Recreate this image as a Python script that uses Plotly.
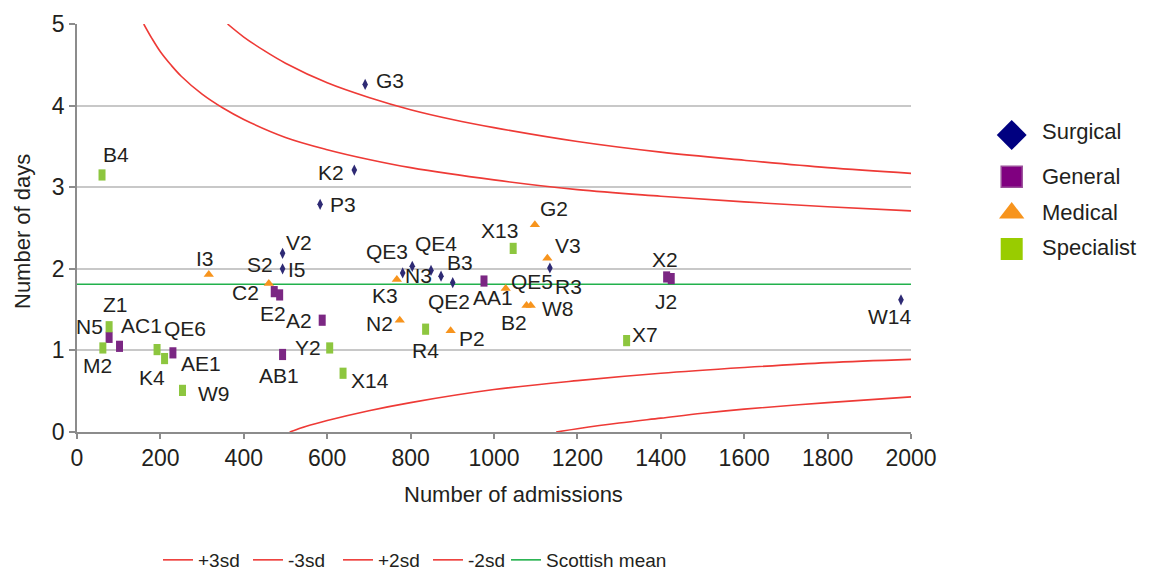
import plotly.graph_objects as go

# ---------------- data ----------------
surgical_names = ["G3", "K2", "P3", "V2", "I5", "QE3", "QE4", "N3", "B3", "QE2", "R3", "W14"]
surgical_adm = [691, 665, 583, 493, 493, 781, 804, 849, 873, 901, 1134, 1976]
surgical_days = [4.26, 3.21, 2.79, 2.19, 2.00, 1.95, 2.03, 1.98, 1.91, 1.83, 2.01, 1.62]

general_names = ["N5", "AC1", "AE1", "C2", "E2", "A2", "AB1", "AA1", "X2", "J2"]
general_adm = [77, 102, 230, 473, 486, 588, 493, 976, 1414, 1425]
general_days = [1.16, 1.05, 0.97, 1.72, 1.68, 1.37, 0.95, 1.85, 1.90, 1.88]

medical_names = ["I3", "S2", "K3", "N2", "P2", "QE5", "G2", "V3", "B2", "W8"]
medical_adm = [316, 460, 767, 774, 896, 1028, 1098, 1128, 1078, 1088]
medical_days = [1.93, 1.82, 1.87, 1.37, 1.24, 1.76, 2.54, 2.13, 1.55, 1.55]

specialist_names = ["B4", "Z1", "M2", "QE6", "K4", "W9", "Y2", "X14", "R4", "X13", "X7"]
specialist_adm = [60, 77, 62, 192, 210, 253, 606, 638, 836, 1046, 1318]
specialist_days = [3.15, 1.29, 1.03, 1.01, 0.90, 0.51, 1.03, 0.72, 1.26, 2.25, 1.12]

plus3_x = [361, 400, 450, 500, 600, 700, 800, 900, 1000, 1200, 1400, 1600, 1800, 2000]
plus3_y = [5.00, 4.84, 4.67, 4.52, 4.28, 4.10, 3.95, 3.83, 3.73, 3.56, 3.43, 3.33, 3.24, 3.17]

minus3_x = [1149, 1200, 1300, 1400, 1500, 1600, 1800, 2000]
minus3_y = [0.00, 0.04, 0.11, 0.17, 0.23, 0.28, 0.36, 0.43]

plus2_x = [160, 180, 200, 225, 250, 300, 350, 400, 500, 600, 700, 800, 1000, 1200, 1400, 1600, 1800, 2000]
plus2_y = [5.00, 4.82, 4.66, 4.50, 4.36, 4.14, 3.97, 3.83, 3.61, 3.46, 3.34, 3.24, 3.09, 2.97, 2.89, 2.82, 2.76, 2.71]

minus2_x = [510, 550, 600, 700, 800, 1000, 1200, 1400, 1600, 1800, 2000]
minus2_y = [0.00, 0.07, 0.14, 0.26, 0.36, 0.52, 0.63, 0.72, 0.79, 0.85, 0.89]

mean_x = [0, 2000]
mean_y = [1.81, 1.81]

x_ticks = [0, 200, 400, 600, 800, 1000, 1200, 1400, 1600, 1800, 2000]
y_ticks = [0, 1, 2, 3, 4, 5]

legend_cats = ["Surgical", "General", "Medical", "Specialist"]

# ---------------- styling ----------------
FONT = "Liberation Sans, Arial, sans-serif"
TXT = "#231F20"
NAVY = "#2E2A74"
PURPLE = "#7B2783"
ORANGE = "#F7941D"
GREEN = "#8DC63F"
RED = "#EE3A36"
MEAN_GREEN = "#22B14C"

# label offsets in pixels (dx right, dy down) relative to marker
label_offsets = {
    "G3": (25, -4), "K2": (-23, 2), "P3": (23, 0), "V2": (16, -11), "I5": (14, 1),
    "QE3": (-16, -21), "QE4": (24, -23), "N3": (-13, 5), "B3": (19, -14), "QE2": (-4, 19),
    "R3": (19, 19), "W14": (-11, 17),
    "N5": (-20, -11), "AC1": (22, -21), "AE1": (28, 11), "C2": (-29, 1), "E2": (-7, 19),
    "A2": (-23, 0), "AB1": (-4, 21), "AA1": (9, 16), "X2": (-2, -17), "J2": (-5, 23),
    "I3": (-4, -16), "S2": (-9, -19), "K3": (-12, 16), "N2": (-20, 3), "P2": (21, 8),
    "QE5": (26, -7), "G2": (19, -16), "V3": (21, -13), "B2": (-13, 17), "W8": (27, 3),
    "B4": (14, -20), "Z1": (6, -22), "M2": (-5, 18), "QE6": (28, -21), "K4": (-13, 19),
    "W9": (31, 3), "Y2": (-22, 0), "X14": (27, 7), "R4": (0, 21), "X13": (-14, -18),
    "X7": (18, -6),
}

# the page body has an 8px margin; positions below are given in screen pixels
OFF = 8
W, H = 1149 - OFF, 570 - OFF
ML = 77 - OFF
MT = 24 - OFF
MR = 9
plot_bottom = 432 - OFF
MB = H - plot_bottom
PW = W - ML - MR
PH = H - MT - MB
plot_right_px = 911 - OFF
xdom_end = (plot_right_px - ML) / PW


def px_x(p):
    return (p - OFF - ML) / PW


def px_y(p):
    return (MT + PH - (p - OFF)) / PH


fig = go.Figure()

line_w = 1.6
for xs, ys, nm in [(plus3_x, plus3_y, "+3sd"), (minus3_x, minus3_y, "-3sd"),
                   (plus2_x, plus2_y, "+2sd"), (minus2_x, minus2_y, "-2sd")]:
    fig.add_trace(go.Scatter(x=xs, y=ys, mode="lines", name=nm, legend="legend",
                             line=dict(color=RED, width=line_w, shape="spline")))
fig.add_trace(go.Scatter(x=mean_x, y=mean_y, mode="lines", name="Scottish mean", legend="legend2",
                         line=dict(color=MEAN_GREEN, width=line_w)))

# data points
fig.add_trace(go.Scatter(x=surgical_adm, y=surgical_days, mode="markers", showlegend=False,
                         marker=dict(symbol="diamond-tall", size=8, color=NAVY, line=dict(width=0))))
fig.add_trace(go.Scatter(x=general_adm, y=general_days, mode="markers", showlegend=False,
                         marker=dict(symbol="line-ns", size=8, color=PURPLE,
                                     line=dict(width=7, color=PURPLE))))
fig.add_trace(go.Scatter(x=medical_adm, y=medical_days, mode="markers", showlegend=False,
                         marker=dict(symbol="triangle-up", size=9, color=ORANGE, line=dict(width=0))))
fig.add_trace(go.Scatter(x=specialist_adm, y=specialist_days, mode="markers", showlegend=False,
                         marker=dict(symbol="line-ns", size=8, color=GREEN,
                                     line=dict(width=7, color=GREEN))))

annotations = []
for names, xs, ys in [(surgical_names, surgical_adm, surgical_days),
                      (general_names, general_adm, general_days),
                      (medical_names, medical_adm, medical_days),
                      (specialist_names, specialist_adm, specialist_days)]:
    for n, xv, yv in zip(names, xs, ys):
        dx, dy = label_offsets[n]
        annotations.append(dict(x=xv, y=yv, xref="x", yref="y", text=n, showarrow=False,
                                xanchor="center", yanchor="middle", xshift=dx, yshift=-dy,
                                font=dict(family=FONT, size=21, color=TXT)))

# right-hand category legend drawn on its own hidden axes
leg_x_px = 1011.7
leg_text_px = 1040
x2_dom = [0.8, 1.0]
x2_left_px = ML + OFF + x2_dom[0] * PW
x2_w_px = (x2_dom[1] - x2_dom[0]) * PW
leg_mx = (leg_x_px - x2_left_px) / x2_w_px
leg_tx = (leg_text_px - x2_left_px) / x2_w_px
leg_y_px = [135, 176.7, 213, 249]
leg_text_y_px = [131, 176, 212, 247]
leg_y = [px_y(p) for p in leg_y_px]
leg_ty = [px_y(p) for p in leg_text_y_px]
leg_symbols = ["diamond", "square", "triangle-up", "square"]
leg_sizes = [23, 21, 22, 22]
leg_colors = ["#000080", "#800080", "#F7941D", "#99CC00"]
leg_lines = ["#000080", "#9A4E9A", "#F7941D", "#99CC00"]
for i, cat in enumerate(legend_cats):
    fig.add_trace(go.Scatter(x=[leg_mx], y=[leg_y[i]], xaxis="x2", yaxis="y2", mode="markers",
                             showlegend=False, cliponaxis=False, hoverinfo="skip",
                             marker=dict(symbol=leg_symbols[i], size=leg_sizes[i], color=leg_colors[i],
                                         line=dict(width=1.5 if i == 1 else 0, color=leg_lines[i]))))
    annotations.append(dict(x=leg_tx, y=leg_ty[i], xref="x2", yref="y2", text=cat, showarrow=False,
                            xanchor="left", yanchor="middle",
                            font=dict(family=FONT, size=22, color=TXT)))

# axis titles
annotations.append(dict(x=px_x(513), y=px_y(495), xref="paper", yref="paper",
                        text="Number of admissions", showarrow=False, xanchor="center", yanchor="middle",
                        font=dict(family=FONT, size=22, color=TXT)))
annotations.append(dict(x=px_x(22), y=px_y(232), xref="paper", yref="paper",
                        text="Number of days", showarrow=False, textangle=-90,
                        xanchor="center", yanchor="middle",
                        font=dict(family=FONT, size=22, color=TXT)))

legend_font = dict(family=FONT, size=19, color=TXT)
fig.update_layout(
    width=W, height=H, autosize=False,
    margin=dict(l=ML, r=MR, t=MT, b=MB, pad=0, autoexpand=False),
    paper_bgcolor="white", plot_bgcolor="white",
    font=dict(family=FONT, size=22, color=TXT),
    xaxis=dict(domain=[0, xdom_end], range=[0, 2000], tickmode="array", tickvals=x_ticks,
               showgrid=False, zeroline=False, showline=True, linecolor="#8C8C8C", linewidth=1.5,
               ticks="outside", ticklen=5, tickcolor="#8C8C8C", tickwidth=1.5,
               tickfont=dict(family=FONT, size=23, color=TXT)),
    yaxis=dict(range=[0, 5], tickmode="array", tickvals=y_ticks,
               showgrid=True, gridcolor="#C8C8C8", gridwidth=1.5, zeroline=False,
               showline=True, linecolor="#8C8C8C", linewidth=1.5,
               ticks="outside", ticklen=6, tickcolor="#8C8C8C", tickwidth=1.5,
               tickfont=dict(family=FONT, size=23, color=TXT)),
    xaxis2=dict(domain=x2_dom, range=[0, 1], visible=False, anchor="y2"),
    yaxis2=dict(domain=[0, 1], range=[0, 1], visible=False, anchor="x2"),
    legend=dict(orientation="h", x=px_x(158), xanchor="left",
                y=px_y(560), yanchor="middle", font=legend_font,
                entrywidth=45, entrywidthmode="pixels", bgcolor="rgba(0,0,0,0)",
                itemclick=False),
    legend2=dict(orientation="h", x=px_x(506), xanchor="left",
                 y=px_y(560), yanchor="middle", font=legend_font,
                 bgcolor="rgba(0,0,0,0)", itemclick=False),
    annotations=annotations,
    showlegend=True,
)

fig.write_html("out.html")
